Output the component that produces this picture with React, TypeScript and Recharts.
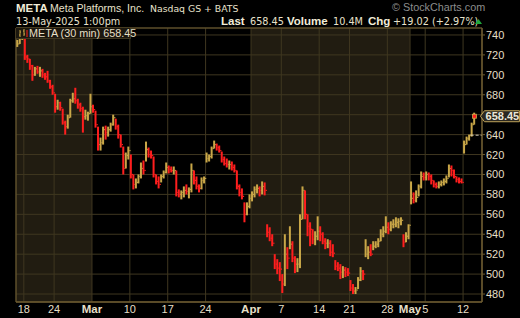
import {
  Bar,
  CartesianGrid,
  ComposedChart,
  ReferenceArea,
  ReferenceDot,
  ReferenceLine,
  XAxis,
  YAxis,
} from 'recharts';

// META 30-min chart, Feb 14 – May 13 2025, read off at three bars per trading day
// (61 trading days, last one cut off at 1:00pm so only two bars)
const BARS_PER_DAY = 3;

const highs = [
  735, 739, 741, // Feb 14
  736, 720, 716, // Feb 18
  710, 708, 709,
  708, 706, 702,
  704, 695, 690,
  681, 675, 673, // Feb 24
  666, 654, 660,
  676, 682, 687,
  676, 672, 668,
  665, 663, 681,
  670, 664, 648, // Mar 3
  637, 648, 649,
  648, 652, 660,
  656, 650, 640,
  628, 622, 628,
  620, 600, 596, // Mar 10
  600, 612, 614,
  633, 627, 624,
  618, 600, 598,
  600, 604, 612,
  609, 608, 608, // Mar 17
  604, 585, 584,
  588, 590, 587,
  611, 604, 598,
  590, 597, 598,
  622, 620, 628, // Mar 24
  634, 631, 629,
  623, 618, 616,
  614, 613, 610,
  604, 590, 586,
  572, 572, 580, // Mar 31
  583, 588, 590,
  588, 593, 592,
  550, 547, 540,
  520, 515, 512,
  500, 540, 527, // Apr 7
  548, 533, 518,
  516, 560, 588,
  584, 560, 552,
  545, 543, 558,
  548, 542, 536, // Apr 14
  535, 534, 530,
  514, 512, 510,
  508, 507, 506,
  494, 490, 487, // Apr 21
  497, 507, 504,
  535, 528, 530,
  533, 533, 536,
  545, 548, 558,
  552, 553, 555, // Apr 28
  557, 556, 557,
  540, 542, 550,
  593, 582, 584,
  590, 603, 602,
  603, 602, 600, // May 5
  594, 592, 593,
  594, 596, 599,
  610, 609, 605,
  598, 597, 596,
  634, 638, 640, // May 12
  652, 662, // May 13
];

const lows = [
  728, 731, 735,
  715, 712, 705,
  694, 699, 701,
  698, 697, 695,
  692, 686, 680,
  662, 665, 664,
  650, 640, 646,
  657, 672, 671,
  666, 663, 642,
  655, 654, 661,
  662, 647, 624,
  624, 630, 635,
  638, 643, 649,
  645, 636, 627,
  600, 606, 615,
  596, 585, 586,
  591, 596, 600,
  613, 617, 616,
  597, 590, 586,
  592, 596, 601,
  601, 602, 600,
  578, 577, 575,
  577, 580, 576,
  582, 590, 585,
  582, 585, 591,
  612, 613, 616,
  626, 624, 622,
  612, 609, 607,
  605, 604, 602,
  585, 578, 575,
  552, 559, 566,
  573, 577, 581,
  578, 580, 579,
  537, 533, 528,
  505, 500, 493,
  481, 488, 505,
  525, 512, 501,
  502, 506, 555,
  555, 538, 528,
  530, 529, 534,
  533, 530, 525,
  526, 518, 517,
  504, 503, 495,
  496, 497, 498,
  483, 480, 480,
  485, 493, 494,
  517, 515, 518,
  524, 526, 527,
  533, 537, 541,
  540, 543, 546,
  547, 546, 549,
  527, 532, 535,
  570, 571, 572,
  578, 586, 594,
  594, 594, 590,
  587, 586, 586,
  588, 589, 591,
  597, 598, 596,
  592, 591, 591,
  621, 630, 634,
  638, 650,
];

const closes = [
  731, 737, 737,
  718, 716, 709,
  700, 706, 703,
  704, 700, 698,
  694, 688, 682,
  668, 672, 667,
  652, 648, 657,
  674, 676, 674,
  670, 666, 658,
  659, 661, 668,
  665, 650, 630,
  632, 645, 642,
  645, 650, 657,
  648, 640, 630,
  606, 619, 624,
  600, 590, 592,
  598, 606, 604,
  625, 620, 619,
  600, 593, 590,
  598, 602, 607,
  605, 604, 604,
  582, 580, 582,
  584, 583, 585,
  604, 594, 588,
  586, 594, 596,
  616, 618, 626,
  630, 627, 624,
  615, 611, 610,
  610, 607, 604,
  588, 582, 578,
  560, 568, 576,
  580, 585, 586,
  584, 588, 584,
  542, 536, 531,
  510, 506, 505,
  490, 520, 516,
  530, 516, 510,
  510, 555, 584,
  560, 548, 545,
  535, 538, 543,
  540, 533, 531,
  531, 522, 521,
  508, 506, 502,
  504, 502, 501,
  486, 483, 484,
  494, 503, 500,
  520, 522, 520,
  528, 530, 533,
  540, 543, 547,
  545, 550, 550,
  552, 553, 554,
  532, 538, 549,
  576, 574, 577,
  588, 598, 597,
  600, 598, 594,
  590, 588, 590,
  592, 593, 596,
  606, 604, 598,
  595, 593, 592,
  630, 636, 639.43,
  650, 658.45,
];

const lastPrice = 658.45;
const prevClose = 639.43;

// trading-day index where each x tick sits (day 0 = Feb 14)
const tickDays = [1, 5, 10, 15, 20, 25, 31, 35, 40, 44, 49, 52, 54, 59];
const tickLabels = ['18', '24', 'Mar', '10', '17', '24', 'Apr', '7', '14', '21', '28', 'May', '5', '12'];
const monthLabels = ['Mar', 'Apr', 'May'];
const priceTicks = [480, 500, 520, 540, 560, 580, 600, 620, 640, 660, 680, 700, 720, 740];
// shaded months as [first day, first day of next month]
const shadedMonths = [
  [0, 10], // Feb
  [31, 52], // Apr
];

const UP = '#c9a748';
const DOWN = '#ff1e1e';
const TEXT = '#e6dfc6';
const GRID = '#3f3720';
const FRAME = '#6f5d30';
const SHADE = '#211c11';
const FONT = '"Liberation Sans", Arial, sans-serif';
const SMALL_FONT = '"DejaVu Sans", Verdana, sans-serif';

const X_MIN = -0.6;
const X_MAX = 184;
const Y_MIN = 472;
const Y_MAX = 747;

const dayToX = (d: number) => d * BARS_PER_DAY - 0.5;
const tickXs = tickDays.map(dayToX);

const bars = closes.map((c, i) => ({
  i,
  range: [lows[i], highs[i]],
  close: c,
  up: c >= (i > 0 ? closes[i - 1] : c),
}));
const lastIdx = bars.length - 1;

function OhlcShape(props: any) {
  const { x, y, width, height, payload } = props;
  if (!payload) return null;
  const [lo, hi] = payload.range;
  const top = Math.min(y, y + height);
  const h = Math.max(Math.abs(height), 1);
  const cx = x + width / 2;
  const cy = top + ((hi - payload.close) / (hi - lo || 1)) * h;
  const color = payload.up ? UP : DOWN;
  return (
    <g>
      <rect x={cx - 1} y={top} width={2} height={h} fill={color} />
      <rect x={cx + 1} y={cy - 0.6} width={1.2} height={1.2} fill={color} />
    </g>
  );
}

function XTick({ x, y, payload }: any) {
  const label = tickLabels[tickXs.indexOf(payload.value)];
  const bold = monthLabels.includes(label);
  return (
    <text
      x={x}
      y={y + 11}
      textAnchor="middle"
      fill={TEXT}
      fontSize={bold ? 11.5 : 11}
      fontWeight={bold ? 'bold' : 'normal'}
      fontFamily={FONT}
    >
      {label}
    </text>
  );
}

// price labels that would sit under the last-price tag are left out, as on the original
function YTick({ x, y, payload }: any) {
  if (Math.abs(payload.value - lastPrice) < 10) return null;
  return (
    <text x={x} y={y + 4} textAnchor="start" fill={TEXT} fontSize={11} fontFamily={FONT}>
      {payload.value}
    </text>
  );
}

function LastPriceTag({ cx, cy }: any) {
  return (
    <g>
      <rect x={cx - 2} y={cy - 2} width={4} height={4} fill={DOWN} stroke={UP} strokeWidth={0.8} />
      <path
        d={`M${cx + 6},${cy} L${cx + 10},${cy - 5.5} L${cx + 45},${cy - 5.5} L${cx + 45},${cy + 5.5} L${cx + 10},${cy + 5.5} Z`}
        fill="#2a2720"
        stroke="#bfa35a"
        strokeWidth={1}
      />
      <text
        x={cx + 28}
        y={cy + 4}
        textAnchor="middle"
        fill="#ebe6d8"
        fontSize={11}
        fontWeight="bold"
        fontFamily={FONT}
      >
        {lastPrice.toFixed(2)}
      </text>
    </g>
  );
}

const abs = (left: number, top: number, extra: React.CSSProperties = {}): React.CSSProperties => ({
  position: 'absolute',
  left,
  top,
  whiteSpace: 'nowrap',
  lineHeight: '12px',
  ...extra,
});

export default function App() {
  return (
    <div
      style={{
        position: 'absolute',
        left: 0,
        top: 0,
        width: 520,
        height: 318,
        background: '#000',
        overflow: 'hidden',
        fontFamily: FONT,
      }}
    >
      <ComposedChart
        width={520}
        height={318}
        data={bars}
        margin={{ top: 28, right: 0, bottom: 0, left: 16 }}
      >
        {shadedMonths.map(([a, b]) => (
          <ReferenceArea
            key={a}
            x1={a === 0 ? X_MIN : dayToX(a)}
            x2={dayToX(b)}
            y1={Y_MIN}
            y2={Y_MAX}
            fill={SHADE}
            fillOpacity={1}
            stroke="none"
            ifOverflow="visible"
            zIndex={-150}
          />
        ))}
        <CartesianGrid stroke={GRID} strokeWidth={1} />
        <XAxis
          type="number"
          dataKey="i"
          domain={[X_MIN, X_MAX]}
          ticks={tickXs}
          interval={0}
          allowDataOverflow
          height={16}
          tickSize={0}
          tickMargin={0}
          tickLine={false}
          axisLine={{ stroke: FRAME }}
          tick={<XTick />}
        />
        <YAxis
          orientation="right"
          domain={[Y_MIN, Y_MAX]}
          ticks={priceTicks}
          interval={0}
          allowDataOverflow
          width={38}
          tickSize={3}
          tickMargin={1}
          axisLine={{ stroke: FRAME }}
          tickLine={{ stroke: FRAME }}
          tick={<YTick />}
        />
        <ReferenceArea
          x1={X_MIN}
          x2={X_MAX}
          y1={Y_MIN}
          y2={Y_MAX}
          fill="none"
          stroke={FRAME}
          ifOverflow="visible"
        />
        <Bar
          dataKey="range"
          barSize={2}
          isAnimationActive={false}
          shape={(p: any) => <OhlcShape {...p} />}
        />
        <ReferenceLine
          segment={[
            { x: lastIdx - 1.5, y: prevClose },
            { x: X_MAX, y: prevClose },
          ]}
          stroke="#d8d2c0"
          strokeDasharray="3 2"
          ifOverflow="visible"
        />
        <ReferenceDot
          x={lastIdx}
          y={lastPrice}
          r={2}
          ifOverflow="visible"
          shape={(p: any) => <LastPriceTag {...p} />}
        />
      </ComposedChart>

      {/* header */}
      <span style={abs(16, 2, { color: '#f2ecd8', fontWeight: 'bold', fontSize: 11.5 })}>META</span>
      <span style={abs(50, 2, { color: '#e8e2cc', fontSize: 10.6 })}>Meta Platforms, Inc.</span>
      <span style={abs(150, 2.5, { color: '#e8e2cc', fontSize: 9.3, fontFamily: SMALL_FONT })}>
        Nasdaq GS + BATS
      </span>
      <span style={abs(392, 1, { color: '#8d8d8d', fontSize: 10.8 })}>© StockCharts.com</span>

      <span style={abs(16, 16, { color: '#e8e2cc', fontSize: 9.7, fontFamily: SMALL_FONT })}>
        13-May-2025 1:00pm
      </span>
      <span style={abs(221, 15, { color: '#f2ecd8', fontWeight: 'bold', fontSize: 11.5 })}>Last</span>
      <span style={abs(250, 16, { color: '#e8e2cc', fontSize: 9.7, fontFamily: SMALL_FONT })}>658.45</span>
      <span style={abs(287, 15, { color: '#f2ecd8', fontWeight: 'bold', fontSize: 11.5 })}>Volume</span>
      <span style={abs(333, 16, { color: '#e8e2cc', fontSize: 9.7, fontFamily: SMALL_FONT })}>10.4M</span>
      <span style={abs(368, 15, { color: '#f2ecd8', fontWeight: 'bold', fontSize: 11.5 })}>Chg</span>
      <span style={abs(393, 16, { color: '#e8e2cc', fontSize: 9.7, fontFamily: SMALL_FONT })}>
        +19.02 (+2.97%)
      </span>
      <svg style={{ position: 'absolute', left: 475, top: 19 }} width={8} height={6}>
        <path d="M0,5 L3.5,0 L7,5 Z" fill="#1fa83a" />
      </svg>

      {/* in-chart legend */}
      <div
        style={{
          position: 'absolute',
          left: 16,
          top: 28,
          width: 114,
          height: 10,
          background: '#1c180f',
          borderRight: `1px solid ${GRID}`,
          borderBottom: `1px solid ${GRID}`,
        }}
      >
        <svg style={{ position: 'absolute', left: 2, top: 1 }} width={10} height={9}>
          <path d="M2,1 V8 M1,6 H2 M2,3 H3" stroke={UP} strokeWidth={1} />
          <path d="M6,0 V7 M5,2 H6 M6,5 H7" stroke={UP} strokeWidth={1} />
          <path d="M9,1 V8" stroke={DOWN} strokeWidth={1} />
        </svg>
        <span style={abs(13, -1.5, { color: TEXT, fontSize: 10.8 })}>META (30 min) 658.45</span>
      </div>
    </div>
  );
}
